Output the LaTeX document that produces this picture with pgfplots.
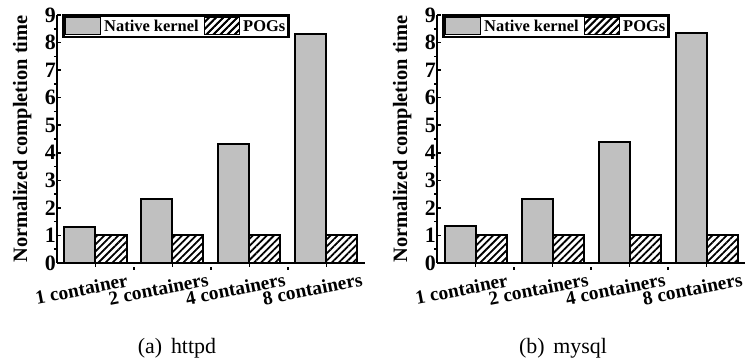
\documentclass[border=0pt]{standalone}
\usepackage{fontspec}
\setmainfont{Liberation Serif}
\usepackage{pgfplots}
\pgfplotsset{compat=1.18}
\usetikzlibrary{patterns.meta}
\definecolor{natgray}{RGB}{192,192,192}

\pgfplotsset{
  mybar/.style={
    scale only axis, width=308bp, height=248bp,
    xmin=-0.5, xmax=3.5, ymin=0, ymax=9,
    axis x line*=bottom, axis y line*=left,
    axis line style={line width=2bp, -},
    ybar=0pt, bar width=31bp,
    xtick={0,1,2,3},
    xticklabels={1 container, 2 containers, 4 containers, 8 containers},
    ytick={0,1,...,9},
    minor xtick={0.5,1.5,2.5},
    minor ytick={0.5,1.5,...,8.5},
    tick align=inside,
    major tick length=4bp, minor tick length=3bp,
    every tick/.style={black, line width=1.5bp},
    x tick style={yshift=-4bp},
    minor x tick style={yshift=-3bp},
    minor y tick style={xshift=-3bp},
    /pgf/number format/assume math mode=true,
    yticklabel style={font=\fontsize{22}{22}\selectfont\bfseries, inner sep=1bp},
    xticklabel style={font=\fontsize{19.5}{21}\selectfont\bfseries, anchor=center, xshift=-14bp, yshift=-26bp, rotate=11},
    ylabel={Normalized completion time},
    ylabel style={font=\fontsize{20.5}{22}\selectfont\bfseries, at={(axis description cs:0,0.5)}, anchor=south, yshift=22bp},
    legend columns=2,
    legend style={at={(axis description cs:0,1)}, anchor=north west, xshift=5bp, yshift=1bp,
      draw=black, line width=2.5bp, font=\fontsize{16.5}{18}\selectfont\bfseries,
      inner sep=1.5bp, column sep=1bp,
      /tikz/every even column/.append style={column sep=3bp}},
  },
  nat/.style={fill=natgray, draw=black, line width=2bp,
    legend image code/.code={\draw[fill=natgray, draw=black, line width=1.5bp] (0bp,-8bp) rectangle (35bp,9bp);}},
  pog/.style={fill=white, draw=black, line width=2bp,
    postaction={pattern={Lines[angle=45,distance=5bp,line width=1.8bp]}},
    legend image code/.code={\draw[fill=white, draw=black, line width=1.5bp, postaction={pattern={Lines[angle=45,distance=5bp,line width=1.8bp]}}] (0bp,-8bp) rectangle (35bp,9bp);}},
}

\begin{document}
\begin{tikzpicture}
\path[use as bounding box] (0,0) rectangle (745bp,361bp);

\begin{axis}[mybar, at={(57bp,98bp)}, anchor=south west]
\addplot[nat] coordinates {(0,1.30) (1,2.32) (2,4.31) (3,8.30)};
\addplot[pog] coordinates {(0,1) (1,1) (2,1) (3,1)};
\legend{Native kernel, POGs}
\end{axis}

\begin{axis}[mybar, at={(437bp,98bp)}, anchor=south west]
\addplot[nat] coordinates {(0,1.34) (1,2.33) (2,4.38) (3,8.33)};
\addplot[pog] coordinates {(0,1) (1,1) (2,1) (3,1)};
\legend{Native kernel, POGs}
\end{axis}

\node[font=\fontsize{22}{24}\selectfont] at (177bp,13bp) {(a)\hspace{0.4em}httpd};
\node[font=\fontsize{22}{24}\selectfont] at (563bp,13bp) {(b)\hspace{0.4em}mysql};
\end{tikzpicture}
\end{document}
